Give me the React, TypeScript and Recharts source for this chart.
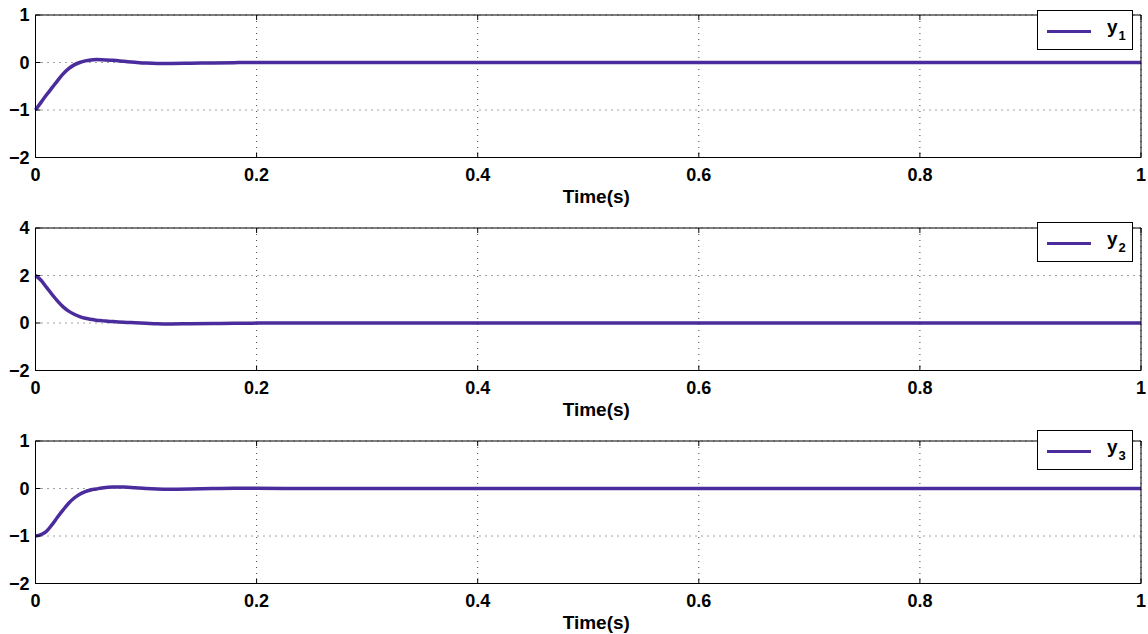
import React from 'react';
import { LineChart, Line, XAxis, YAxis, CartesianGrid, Legend } from 'recharts';

// tiempo (s) y respuestas
const timeS = [0, 0.005, 0.01, 0.015, 0.02, 0.025, 0.03, 0.035, 0.04, 0.045, 0.05, 0.055, 0.06, 0.07, 0.08, 0.09, 0.1, 0.11, 0.12, 0.14, 0.16, 0.18, 0.2, 0.25, 0.3, 0.4, 0.5, 0.6, 0.7, 0.8, 0.9, 1.0];
const y1Vals = [-1, -0.84, -0.68, -0.53, -0.38, -0.24, -0.13, -0.05, 0.0, 0.035, 0.055, 0.062, 0.06, 0.045, 0.025, 0.005, -0.012, -0.02, -0.02, -0.015, -0.008, -0.003, 0, 0, 0, 0, 0, 0, 0, 0, 0, 0];
const y2Vals = [2.0, 1.8, 1.5, 1.2, 0.92, 0.68, 0.5, 0.37, 0.27, 0.2, 0.16, 0.12, 0.1, 0.06, 0.03, 0.01, -0.01, -0.03, -0.04, -0.03, -0.02, -0.01, -0.005, 0, 0, 0, 0, 0, 0, 0, 0, 0];
const y3Vals = [-1, -0.97, -0.9, -0.76, -0.6, -0.45, -0.31, -0.2, -0.12, -0.065, -0.03, -0.01, 0.01, 0.03, 0.03, 0.015, 0.0, -0.01, -0.015, -0.01, 0.0, 0.005, 0.005, 0, 0, 0, 0, 0, 0, 0, 0, 0];

const xTicks = [0, 0.2, 0.4, 0.6, 0.8, 1];
const yTicksA = [-2, -1, 0, 1];
const yTicksB = [-2, 0, 2, 4];
const xLabel = 'Time(s)';

const lineColor = '#4b2c9c';
const font = '"Liberation Sans", Arial, Helvetica, sans-serif';

const fmtY = (v: number) => String(v).replace('-', '\u2212');

function Panel({ values, domain, yTicks, sub, top, legendTop }: any) {
    const data = timeS.map((t, i) => ({ t, y: values[i] }));
    const tickStyle = { fontSize: 18, fontWeight: 'bold', fill: '#000', fontFamily: font };

    return (
        <div style={{ position: 'absolute', left: 0, top }}>
            <LineChart width={1148} height={213} data={data} margin={{ top: 14, right: 6, left: 0, bottom: 0 }}>
                <CartesianGrid stroke="#444" strokeDasharray="1 5" horizontal vertical />
                <XAxis
                    dataKey="t"
                    type="number"
                    domain={[0, 1]}
                    ticks={xTicks}
                    height={55.5}
                    tickSize={-5}
                    tickMargin={16}
                    tick={tickStyle}
                    stroke="#000"
                    label={{ value: xLabel, position: 'insideBottom', offset: 10, dx: 8, style: { ...tickStyle, fontSize: 19 } }}
                />
                <XAxis xAxisId="top" orientation="top" dataKey="t" type="number" domain={[0, 1]} ticks={xTicks} height={1} tickSize={-5} tickMargin={0} tickFormatter={() => ''} stroke="#000" />
                <YAxis
                    domain={domain}
                    ticks={yTicks}
                    width={35.5}
                    tickSize={-5}
                    tickMargin={11}
                    tick={tickStyle}
                    tickFormatter={fmtY}
                    stroke="#000"
                    interval={0}
                />
                <YAxis yAxisId="r" orientation="right" domain={domain} ticks={yTicks} width={1} tickSize={-5} tickMargin={0} tickFormatter={() => ''} stroke="#000" />
                <Legend
                    layout="vertical"
                    align="center"
                    verticalAlign="middle"
                    wrapperStyle={{ top: legendTop, left: 1037, width: 96 }}
                    content={() => (
                        <div style={{ width: 94, height: 38, border: '1px solid #000', background: '#fff', position: 'relative', fontFamily: font, fontWeight: 'bold' }}>
                            <div style={{ position: 'absolute', left: 9, top: 19, width: 44, height: 3, background: lineColor }} />
                            <div style={{ position: 'absolute', left: 69, top: 5, fontSize: 19, lineHeight: '22px' }}>
                                y<span style={{ fontSize: 13, position: 'relative', top: 7, marginLeft: 1 }}>{sub}</span>
                            </div>
                        </div>
                    )}
                />
                <Line type="monotone" dataKey="y" name={'y' + sub} stroke={lineColor} strokeWidth={3.5} dot={false} isAnimationActive={false} />
            </LineChart>
        </div>
    );
}

export default function App() {
    return (
        <div style={{ position: 'relative', width: 1148, height: 634, overflow: 'hidden', background: '#fff' }}>
            <style>{'body{margin:0}'}</style>
            <Panel values={y1Vals} domain={[-2, 1]} yTicks={yTicksA} sub="1" top={0} legendTop={10} />
            <Panel values={y2Vals} domain={[-2, 4]} yTicks={yTicksB} sub="2" top={213} legendTop={9} />
            <Panel values={y3Vals} domain={[-2, 1]} yTicks={yTicksA} sub="3" top={426} legendTop={4} />
        </div>
    );
}
